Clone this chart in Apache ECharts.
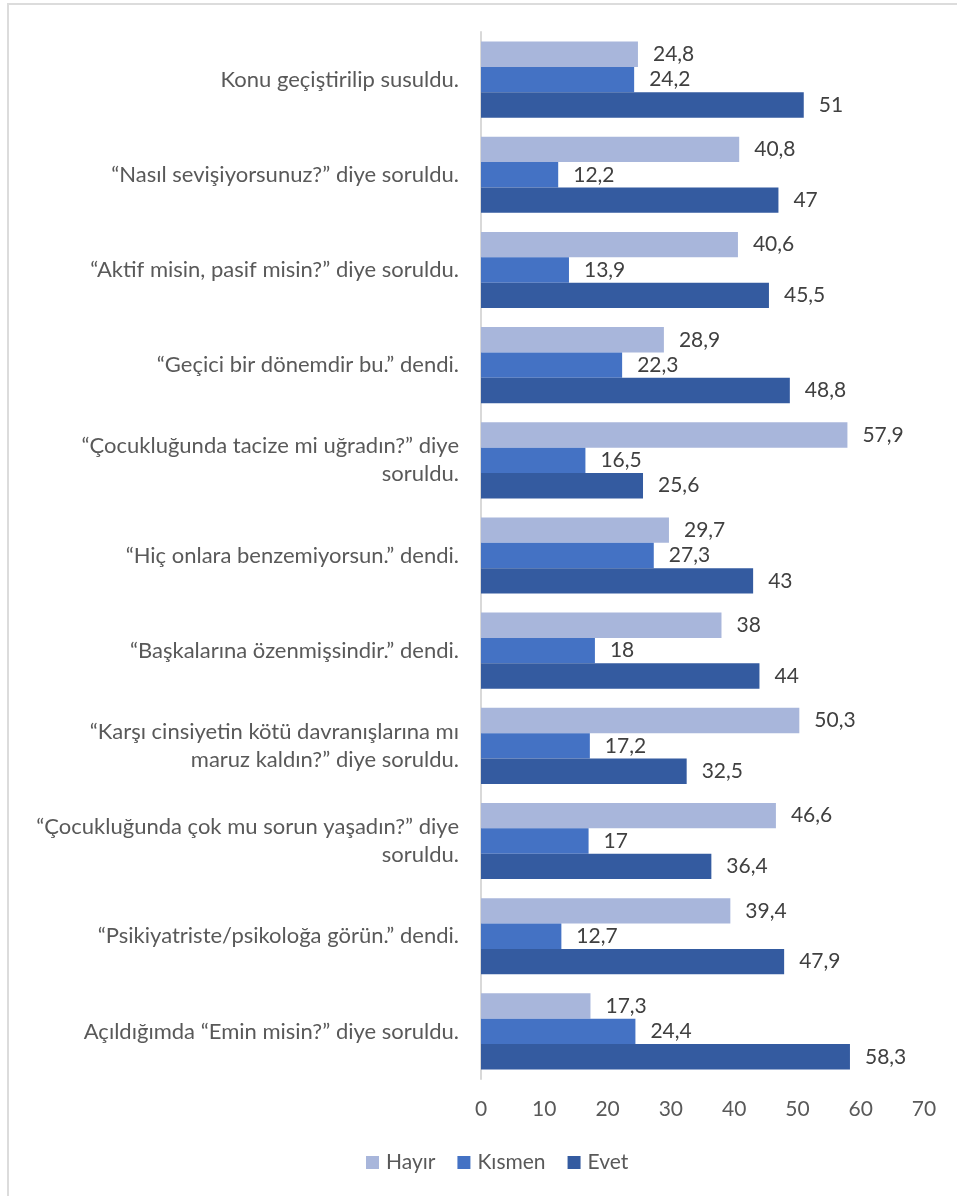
<!DOCTYPE html>
<html>
<head>
<meta charset="utf-8">
<script src="https://cdn.jsdelivr.net/npm/echarts@6/dist/echarts.min.js"></script>
<style>
html,body{margin:0;padding:0;background:#fff;}
#frame{position:absolute;left:7px;top:3px;width:960px;height:1200px;border-left:2px solid #dcdcdc;border-top:2px solid #dcdcdc;box-sizing:border-box;}
#chart{position:absolute;left:0;top:0;width:957px;height:1196px;}
</style>
</head>
<body>
<div id="frame"></div>
<div id="chart"></div>
<script>
const categories = [
  "Konu geçiştirilip susuldu.",
  "“Nasıl sevişiyorsunuz?” diye soruldu.",
  "“Aktif misin, pasif misin?” diye soruldu.",
  "“Geçici bir dönemdir bu.” dendi.",
  "“Çocukluğunda tacize mi uğradın?” diye\nsoruldu.",
  "“Hiç onlara benzemiyorsun.” dendi.",
  "“Başkalarına özenmişsindir.” dendi.",
  "“Karşı cinsiyetin kötü davranışlarına mı\nmaruz kaldın?” diye soruldu.",
  "“Çocukluğunda çok mu sorun yaşadın?” diye\nsoruldu.",
  "“Psikiyatriste/psikoloğa görün.” dendi.",
  "Açıldığımda “Emin misin?” diye soruldu."
];
const seriesNames = ["Hayır", "Kısmen", "Evet"];
const hayir  = [24.8, 40.8, 40.6, 28.9, 57.9, 29.7, 38, 50.3, 46.6, 39.4, 17.3];
const kismen = [24.2, 12.2, 13.9, 22.3, 16.5, 27.3, 18, 17.2, 17, 12.7, 24.4];
const evet   = [51, 47, 45.5, 48.8, 25.6, 43, 44, 32.5, 36.4, 47.9, 58.3];
const ticks = [0, 10, 20, 30, 40, 50, 60, 70];

const colors = ["#A8B6DB", "#4472C4", "#345BA0"];
const FONT = "Lato";
const values = [hayir, kismen, evet];

const chart = echarts.init(document.getElementById('chart'));
chart.setOption({
  animation: false,
  textStyle: { fontFamily: FONT },
  grid: { left: 481, right: 33, top: 32, bottom: 117, containLabel: false },
  legend: {
    data: seriesNames,
    bottom: 18,
    left: 361,
    itemWidth: 13, itemHeight: 13, itemGap: 22,
    icon: 'rect',
    textStyle: { fontFamily: FONT, fontSize: 21, color: '#595959', padding: [0, 0, 0, 2] }
  },
  xAxis: {
    type: 'value',
    min: ticks[0], max: ticks[ticks.length - 1], interval: 10,
    axisLine: { show: false }, axisTick: { show: false },
    splitLine: { show: false },
    axisLabel: { fontFamily: FONT, fontSize: 21, color: '#595959', margin: 20 }
  },
  yAxis: {
    type: 'category',
    inverse: true,
    data: categories,
    axisLine: { show: true, lineStyle: { color: '#d9d9d9', width: 2 } },
    axisTick: { show: false },
    axisLabel: { fontFamily: FONT, fontSize: 22, color: '#595959', margin: 22, lineHeight: 28, align: 'right' }
  },
  series: seriesNames.map((name, i) => ({
    name: name,
    type: 'bar',
    data: values[i],
    barGap: '0%',
    barCategoryGap: '20%',
    itemStyle: { color: colors[i] },
    label: {
      show: true, position: 'right', distance: 15,
      fontFamily: FONT, fontSize: 21, color: '#404040',
      formatter: p => String(p.value).replace('.', ',')
    }
  }))
});
</script>
</body>
</html>
